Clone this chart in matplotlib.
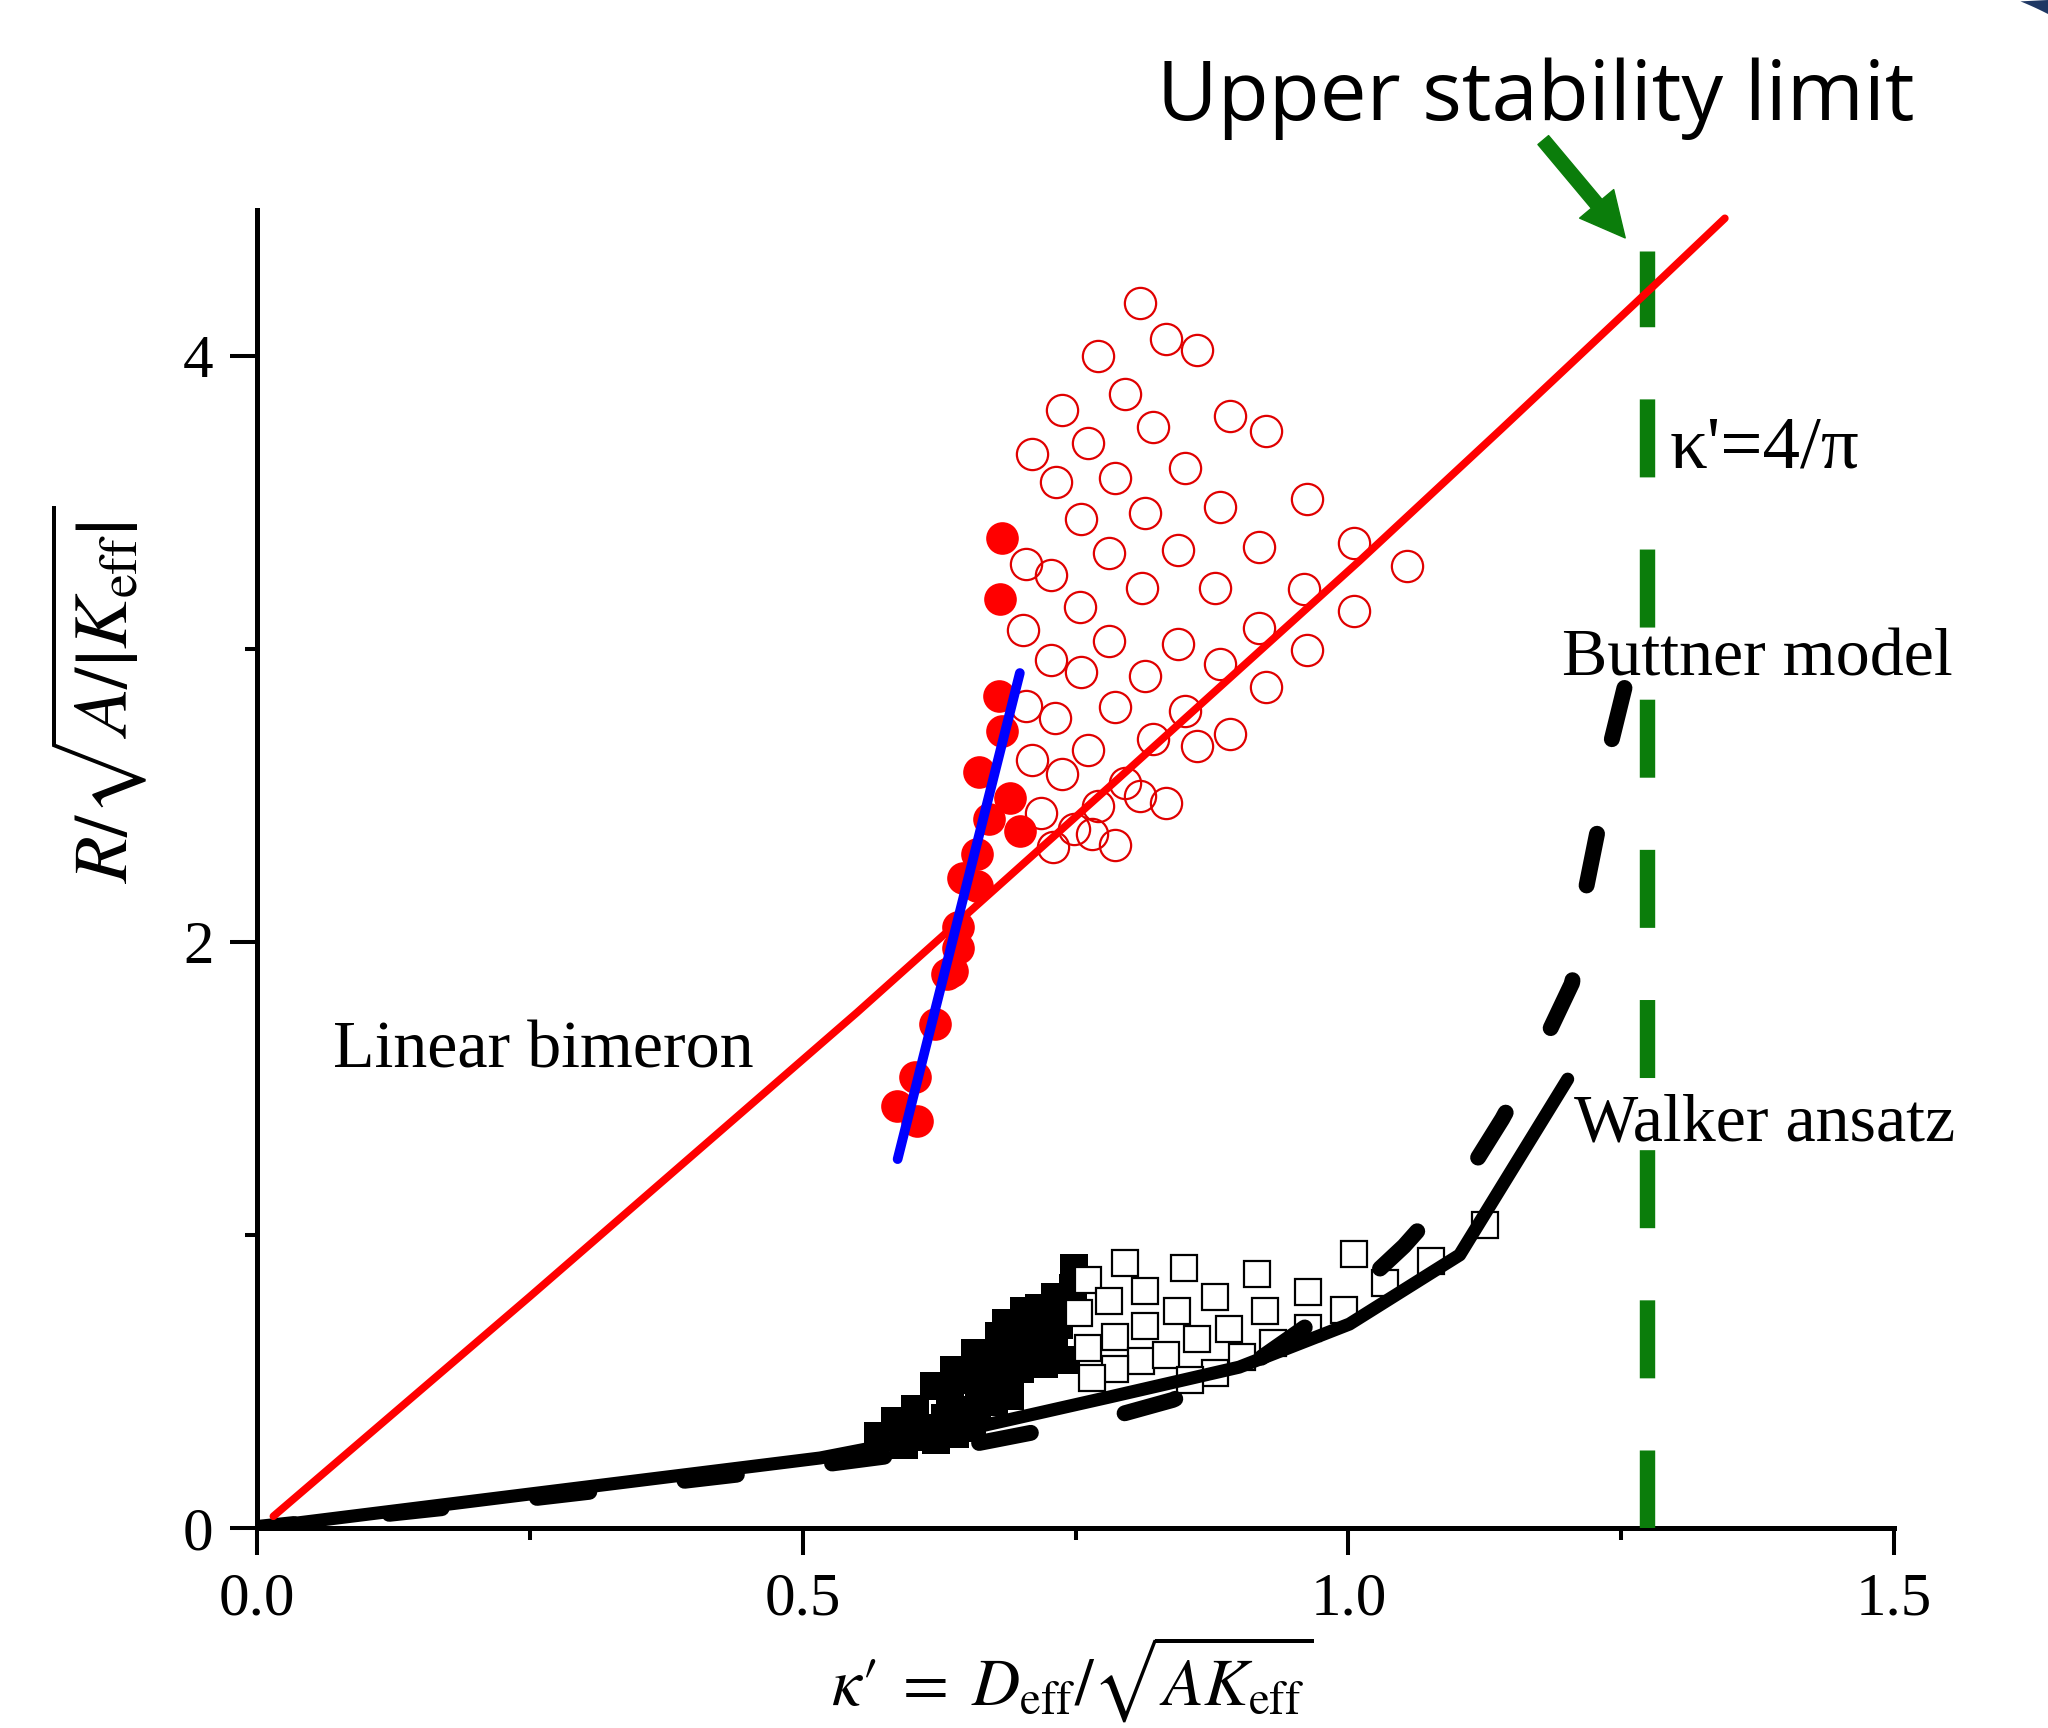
import numpy as np
import matplotlib.pyplot as plt
from matplotlib.ticker import MultipleLocator, FixedLocator, FixedFormatter

plt.rcParams['mathtext.fontset'] = 'stix'
plt.rcParams['font.family'] = ['Liberation Serif', 'DejaVu Serif']

# --- data ---
# linear bimeron model (red line)
bimeron_x = [0.015, 0.25, 0.55, 0.79, 1.01, 1.14, 1.28, 1.345]
bimeron_y = [0.04, 0.79, 1.76, 2.56, 3.30, 3.75, 4.24, 4.47]

# blue fit through filled circles
fit_x = [0.587, 0.699]
fit_y = [1.259, 2.918]

# Walker ansatz (solid black)
walker_x = [0.0, 0.25, 0.516, 0.642, 0.781, 0.90, 1.001, 1.102, 1.201]
walker_y = [0.0, 0.116, 0.239, 0.330, 0.447, 0.549, 0.696, 0.932, 1.532]

# Buttner model (dashed black)
buttner_x = [0.0, 0.25, 0.516, 0.642, 0.708, 0.779, 0.839, 0.908, 0.953, 1.005,
             1.051, 1.109, 1.141, 1.178, 1.205, 1.216, 1.228, 1.239, 1.253]
buttner_y = [0.0, 0.10, 0.215, 0.276, 0.324, 0.375, 0.437, 0.549, 0.666, 0.802,
             0.962, 1.205, 1.396, 1.648, 1.860, 2.150, 2.372, 2.655, 2.867]

# upper stability limit kappa' = 4/pi
kappa_limit = 4 / np.pi
limit_top = 4.36

# filled red circles
bim_fill_x = [0.683, 0.681, 0.680, 0.683, 0.662, 0.690, 0.671, 0.699, 0.660, 0.647,
              0.660, 0.642, 0.642, 0.632, 0.637, 0.621, 0.603, 0.586, 0.605]
bim_fill_y = [3.38, 3.17, 2.84, 2.72, 2.58, 2.49, 2.42, 2.38, 2.30, 2.22,
              2.19, 2.05, 1.98, 1.89, 1.90, 1.72, 1.54, 1.44, 1.39]

# open red circles
bim_open_x = [0.809, 0.833, 0.861, 0.771, 0.795, 0.738, 0.821, 0.892, 0.925, 0.710,
              0.761, 0.732, 0.786, 0.850, 0.962, 0.882, 0.814, 0.755, 0.918, 1.005,
              1.054, 0.844, 0.781, 0.705, 0.728, 0.811, 0.878, 0.959, 1.005, 0.754,
              0.702, 0.918, 0.781, 0.844, 0.962, 0.728, 0.755, 0.814, 0.882, 0.925,
              0.705, 0.731, 0.786, 0.850, 0.710, 0.761, 0.821, 0.892, 0.861, 0.738,
              0.795, 0.718, 0.771, 0.809, 0.833, 0.749, 0.729, 0.765, 0.786]
bim_open_y = [4.181, 4.058, 4.020, 4.000, 3.870, 3.816, 3.758, 3.795, 3.744, 3.666,
              3.703, 3.570, 3.584, 3.618, 3.512, 3.485, 3.464, 3.444, 3.348, 3.362,
              3.283, 3.338, 3.328, 3.290, 3.253, 3.208, 3.208, 3.205, 3.130, 3.143,
              3.065, 3.072, 3.027, 3.017, 2.997, 2.962, 2.922, 2.908, 2.949, 2.870,
              2.805, 2.765, 2.802, 2.788, 2.621, 2.655, 2.693, 2.710, 2.669, 2.573,
              2.543, 2.440, 2.464, 2.498, 2.474, 2.386, 2.324, 2.369, 2.331]

# filled black squares
sky_fill_x = [0.569, 0.585, 0.603, 0.620, 0.639, 0.658, 0.680, 0.703, 0.717, 0.731,
              0.749, 0.593, 0.612, 0.630, 0.648, 0.635, 0.653, 0.674, 0.699, 0.721,
              0.741, 0.694, 0.717, 0.735, 0.743, 0.726, 0.600, 0.622, 0.645, 0.662,
              0.668, 0.688, 0.700, 0.712, 0.730, 0.705, 0.722, 0.686, 0.665, 0.748,
              0.655, 0.660, 0.640, 0.675, 0.690, 0.625]
sky_fill_y = [0.314, 0.365, 0.406, 0.485, 0.539, 0.597, 0.655, 0.741, 0.751, 0.788,
              0.887, 0.283, 0.341, 0.375, 0.403, 0.454, 0.505, 0.567, 0.543, 0.560,
              0.573, 0.642, 0.659, 0.693, 0.778, 0.717, 0.310, 0.300, 0.340, 0.440,
              0.520, 0.500, 0.600, 0.610, 0.620, 0.690, 0.700, 0.700, 0.560, 0.820,
              0.360, 0.400, 0.320, 0.430, 0.450, 0.330]

# open black squares
sky_open_x = [0.795, 0.849, 0.916, 0.761, 0.814, 0.878, 0.781, 0.963, 1.005, 1.076,
              1.125, 0.753, 0.843, 0.924, 0.814, 0.891, 0.963, 0.996, 1.034, 0.761,
              0.786, 0.861, 0.810, 0.833, 0.786, 0.765, 0.903, 0.931, 0.878, 0.855]
sky_open_y = [0.904, 0.887, 0.867, 0.846, 0.809, 0.788, 0.775, 0.805, 0.935, 0.911,
              1.034, 0.734, 0.741, 0.741, 0.689, 0.679, 0.683, 0.744, 0.836, 0.614,
              0.652, 0.645, 0.570, 0.590, 0.543, 0.512, 0.584, 0.631, 0.529, 0.505]

x_ticks = [0.0, 0.5, 1.0, 1.5]
x_ticklabels = ['0.0', '0.5', '1.0', '1.5']
y_ticks = [0, 2, 4]
y_ticklabels = ['0', '2', '4']

green = '#0b7d0b'

fig = plt.figure(figsize=(20.48, 17.28), dpi=100)
ax = fig.add_axes([0.12549, 0.11574, 0.79932, 0.76302])

# squares
ax.plot(sky_fill_x, sky_fill_y, ls='none', marker='s', ms=19.5, mfc='black', mew=0, zorder=2)
ax.plot(sky_open_x, sky_open_y, ls='none', marker='s', ms=18.2, mfc='white', mec='black', mew=1.6, zorder=3)

# black model curves
ax.plot(walker_x, walker_y, color='black', lw=9.4, solid_capstyle='round', solid_joinstyle='round', zorder=4)
ax.plot(buttner_x[::-1], buttner_y[::-1], color='black', lw=11.5,
        linestyle=(0, (3.3, 6.0)), dash_capstyle='round', zorder=4)

# stability limit
ax.plot([kappa_limit, kappa_limit], [0, limit_top], color=green, lw=11.1,
        linestyle=(0, (5.06, 4.68)), dash_capstyle='butt', zorder=4)

# circles
ax.plot(bim_open_x, bim_open_y, ls='none', marker='o', ms=22.5, mfc='none', mec='#e00000', mew=1.6, zorder=5)
ax.plot(bim_fill_x, bim_fill_y, ls='none', marker='o', ms=23.5, mfc='red', mew=0, zorder=5)

# red and blue lines
ax.plot(bimeron_x, bimeron_y, color='red', lw=5.5, solid_capstyle='round', zorder=6)
ax.plot(fit_x, fit_y, color='blue', lw=7, solid_capstyle='round', zorder=7)

ax.set_xlim(0, 1.5)
ax.set_ylim(0, 4.5)
for s in ['top', 'right']:
    ax.spines[s].set_visible(False)
for s in ['left', 'bottom']:
    ax.spines[s].set_linewidth(3.6)

ax.xaxis.set_major_locator(FixedLocator(x_ticks))
ax.xaxis.set_major_formatter(FixedFormatter(x_ticklabels))
ax.xaxis.set_minor_locator(MultipleLocator(0.25))
ax.yaxis.set_major_locator(FixedLocator(y_ticks))
ax.yaxis.set_major_formatter(FixedFormatter(y_ticklabels))
ax.yaxis.set_minor_locator(MultipleLocator(1))
ax.tick_params(which='major', direction='out', length=19.4, width=2.9, labelsize=44)
ax.tick_params(which='minor', direction='out', length=8.6, width=2.9)
ax.tick_params(axis='x', which='major', pad=12)
ax.tick_params(axis='y', which='major', pad=12)

ax.set_xlabel("$\\kappa\u2032\\;=\\;D_{\\mathrm{eff}}/\\sqrt{AK_{\\mathrm{eff}}}$", fontsize=48)
ax.xaxis.set_label_coords(0.498, -0.080)
ax.set_ylabel(r"$R/\sqrt{A/\left|K_{\mathrm{eff}}\right|}$", fontsize=55)
ax.yaxis.set_label_coords(-0.066, 0.632)

# in-plot labels
ax.text(0.070, 1.57, 'Linear bimeron', fontsize=49, va='baseline')
ax.text(1.196, 2.908, 'Buttner model', fontsize=49, va='baseline')
ax.text(1.207, 1.321, 'Walker ansatz', fontsize=49, va='baseline')
ax.text(1.294, 3.621, "\u03ba'=4/\u03c0", fontsize=54, va='baseline')

# title note and arrow
fig.text(0.565, 0.9306, 'Upper stability limit', fontsize=60, family=['Open Sans', 'DejaVu Sans'], va='baseline')
ax.annotate('', xy=(1.2537, 4.403), xytext=(1.1786, 4.737), annotation_clip=False,
            arrowprops=dict(arrowstyle='simple,head_length=1.6,head_width=1.6,tail_width=0.5',
                            mutation_scale=20, color=green, shrinkA=0, shrinkB=0))

# slide frame corner (top right)
t = np.linspace(np.arctan2(-300, 121), np.arctan2(-285, 148), 20)
px = 1900 + 322 * np.cos(t)
py = 300 + 322 * np.sin(t)
corner = np.vstack([np.column_stack([px / 2048, 1 - py / 1728]), [[1.0, 1.0]]])
fig.patches.append(plt.Polygon(corner, closed=True, transform=fig.transFigure,
                               facecolor='#1f3864', edgecolor='none'))

fig.savefig('out.png', dpi=100)
